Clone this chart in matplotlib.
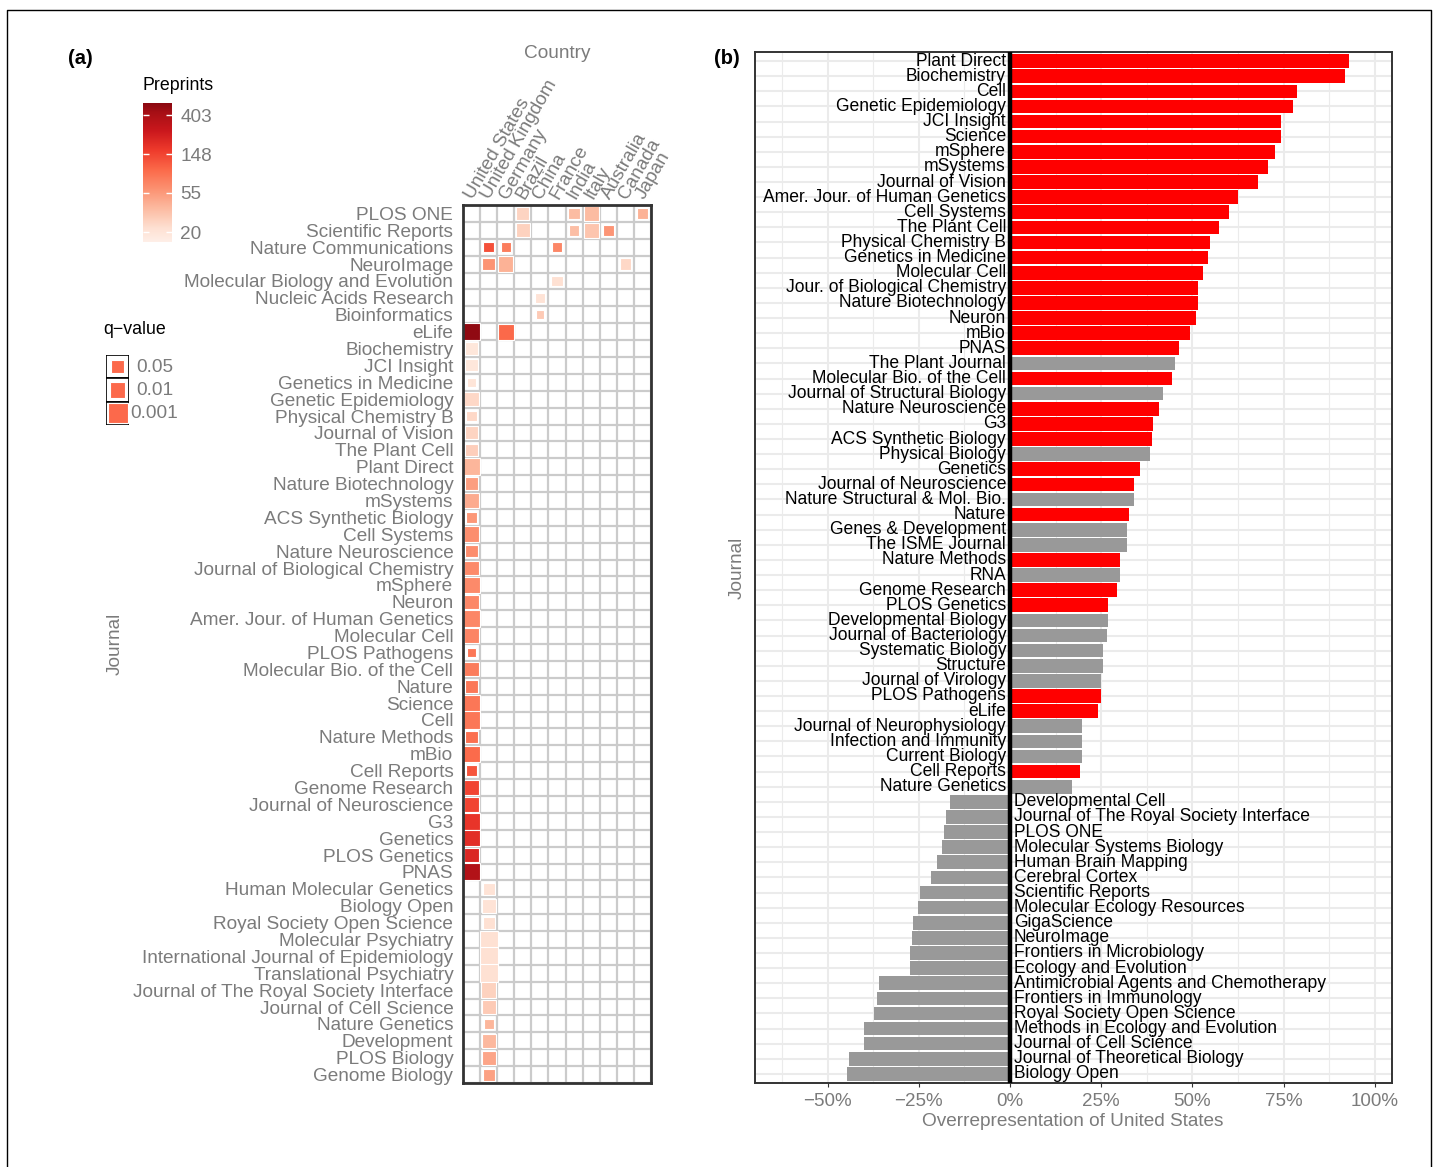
import matplotlib
matplotlib.use('Agg')
import matplotlib.pyplot as plt
import numpy as np
from matplotlib.patches import Rectangle
from matplotlib.colors import LogNorm
from matplotlib.lines import Line2D

plt.rcParams['font.family'] = ['Liberation Sans', 'DejaVu Sans']

# ---------------- panel (a) data ----------------
countries = ['United States', 'United Kingdom', 'Germany', 'Brazil', 'China', 'France',
             'India', 'Italy', 'Australia', 'Canada', 'Japan']

heat_journals = [
    'PLOS ONE', 'Scientific Reports', 'Nature Communications', 'NeuroImage',
    'Molecular Biology and Evolution', 'Nucleic Acids Research', 'Bioinformatics', 'eLife',
    'Biochemistry', 'JCI Insight', 'Genetics in Medicine', 'Genetic Epidemiology',
    'Physical Chemistry B', 'Journal of Vision', 'The Plant Cell', 'Plant Direct',
    'Nature Biotechnology', 'mSystems', 'ACS Synthetic Biology', 'Cell Systems',
    'Nature Neuroscience', 'Journal of Biological Chemistry', 'mSphere', 'Neuron',
    'Amer. Jour. of Human Genetics', 'Molecular Cell', 'PLOS Pathogens',
    'Molecular Bio. of the Cell', 'Nature', 'Science', 'Cell', 'Nature Methods', 'mBio',
    'Cell Reports', 'Genome Research', 'Journal of Neuroscience', 'G3', 'Genetics',
    'PLOS Genetics', 'PNAS', 'Human Molecular Genetics', 'Biology Open',
    'Royal Society Open Science', 'Molecular Psychiatry',
    'International Journal of Epidemiology', 'Translational Psychiatry',
    'Journal of The Royal Society Interface', 'Journal of Cell Science', 'Nature Genetics',
    'Development', 'PLOS Biology', 'Genome Biology']

# one entry per filled cell
cell_journal = [
    'PLOS ONE', 'PLOS ONE', 'PLOS ONE', 'PLOS ONE',
    'Scientific Reports', 'Scientific Reports', 'Scientific Reports', 'Scientific Reports',
    'Nature Communications', 'Nature Communications', 'Nature Communications',
    'NeuroImage', 'NeuroImage', 'NeuroImage',
    'Molecular Biology and Evolution', 'Nucleic Acids Research', 'Bioinformatics',
    'eLife', 'eLife',
    'Biochemistry', 'JCI Insight', 'Genetics in Medicine', 'Genetic Epidemiology',
    'Physical Chemistry B', 'Journal of Vision', 'The Plant Cell', 'Plant Direct',
    'Nature Biotechnology', 'mSystems', 'ACS Synthetic Biology', 'Cell Systems',
    'Nature Neuroscience', 'Journal of Biological Chemistry', 'mSphere', 'Neuron',
    'Amer. Jour. of Human Genetics', 'Molecular Cell', 'PLOS Pathogens',
    'Molecular Bio. of the Cell', 'Nature', 'Science', 'Cell', 'Nature Methods', 'mBio',
    'Cell Reports', 'Genome Research', 'Journal of Neuroscience', 'G3', 'Genetics',
    'PLOS Genetics', 'PNAS',
    'Human Molecular Genetics', 'Biology Open', 'Royal Society Open Science',
    'Molecular Psychiatry', 'International Journal of Epidemiology',
    'Translational Psychiatry', 'Journal of The Royal Society Interface',
    'Journal of Cell Science', 'Nature Genetics', 'Development', 'PLOS Biology',
    'Genome Biology']
cell_country = (
    ['Brazil', 'India', 'Italy', 'Japan']
    + ['Brazil', 'India', 'Italy', 'Australia']
    + ['United Kingdom', 'Germany', 'France']
    + ['United Kingdom', 'Germany', 'Canada']
    + ['France', 'China', 'China']
    + ['United States', 'Germany']
    + ['United States'] * 32
    + ['United Kingdom'] * 12)
cell_preprints = [
    26, 36, 36, 41,
    27, 35, 32, 58,
    130, 78, 69,
    59, 41, 25,
    22, 21, 30,
    520, 100,
    19, 19, 20, 25, 25, 26, 28, 39, 52, 44, 57, 63, 64, 66, 66, 69, 69, 72, 84, 78,
    83, 84, 84, 92, 99, 125, 147, 147, 180, 196, 219, 370,
    21, 21, 22, 22, 22, 22, 27, 30, 39, 38, 48, 50]
cell_q = [
    0.037, 0.076, 0.016, 0.10,
    0.019, 0.14, 0.016, 0.14,
    0.17, 0.21, 0.21,
    0.053, 0.011, 0.10,
    0.12, 0.17, 0.40,
    0.0042, 0.0072,
    0.031, 0.063, 0.33, 0.023, 0.17, 0.037, 0.063, 0.006, 0.031, 0.0095, 0.10, 0.0095,
    0.053, 0.014, 0.006, 0.019, 0.006, 0.014, 0.40, 0.019, 0.045, 0.0042, 0.0042,
    0.053, 0.006, 0.14, 0.016, 0.0095, 0.006, 0.006, 0.016, 0.0042,
    0.063, 0.023, 0.063, 0.003, 0.003, 0.003, 0.011, 0.023, 0.21, 0.023, 0.023, 0.063]

preprint_breaks = [20, 55, 148, 403]
preprint_range = (15.5, 550)
q_breaks = [0.05, 0.01, 0.001]

# ---------------- panel (b) data ----------------
bar_journals = [
    'Plant Direct', 'Biochemistry', 'Cell', 'Genetic Epidemiology', 'JCI Insight',
    'Science', 'mSphere', 'mSystems', 'Journal of Vision', 'Amer. Jour. of Human Genetics',
    'Cell Systems', 'The Plant Cell', 'Physical Chemistry B', 'Genetics in Medicine',
    'Molecular Cell', 'Jour. of Biological Chemistry', 'Nature Biotechnology', 'Neuron',
    'mBio', 'PNAS', 'The Plant Journal', 'Molecular Bio. of the Cell',
    'Journal of Structural Biology', 'Nature Neuroscience', 'G3', 'ACS Synthetic Biology',
    'Physical Biology', 'Genetics', 'Journal of Neuroscience',
    'Nature Structural & Mol. Bio.', 'Nature', 'Genes & Development', 'The ISME Journal',
    'Nature Methods', 'RNA', 'Genome Research', 'PLOS Genetics', 'Developmental Biology',
    'Journal of Bacteriology', 'Systematic Biology', 'Structure', 'Journal of Virology',
    'PLOS Pathogens', 'eLife', 'Journal of Neurophysiology', 'Infection and Immunity',
    'Current Biology', 'Cell Reports', 'Nature Genetics', 'Developmental Cell',
    'Journal of The Royal Society Interface', 'PLOS ONE', 'Molecular Systems Biology',
    'Human Brain Mapping', 'Cerebral Cortex', 'Scientific Reports',
    'Molecular Ecology Resources', 'GigaScience', 'NeuroImage',
    'Frontiers in Microbiology', 'Ecology and Evolution',
    'Antimicrobial Agents and Chemotherapy', 'Frontiers in Immunology',
    'Royal Society Open Science', 'Methods in Ecology and Evolution',
    'Journal of Cell Science', 'Journal of Theoretical Biology', 'Biology Open']
bar_values = [
    0.928, 0.918, 0.787, 0.775, 0.742, 0.742, 0.726, 0.707, 0.679, 0.626,
    0.600, 0.574, 0.547, 0.542, 0.530, 0.516, 0.514, 0.511, 0.492, 0.462,
    0.453, 0.443, 0.420, 0.409, 0.393, 0.388, 0.383, 0.355, 0.341, 0.341,
    0.327, 0.322, 0.322, 0.302, 0.302, 0.294, 0.269, 0.269, 0.266, 0.255,
    0.255, 0.250, 0.250, 0.242, 0.198, 0.198, 0.198, 0.192, 0.170,
    -0.165, -0.176, -0.181, -0.187, -0.201, -0.217, -0.247, -0.253, -0.266, -0.269,
    -0.273, -0.273, -0.360, -0.364, -0.374, -0.399, -0.399, -0.441, -0.446]
bar_significant = [
    1, 1, 1, 1, 1, 1, 1, 1, 1, 1,
    1, 1, 1, 1, 1, 1, 1, 1, 1, 1,
    0, 1, 0, 1, 1, 1, 0, 1, 1, 0,
    1, 0, 0, 1, 0, 1, 1, 0, 0, 0,
    0, 0, 1, 1, 0, 0, 0, 1, 0,
    0, 0, 0, 0, 0, 0, 0, 0, 0, 0,
    0, 0, 0, 0, 0, 0, 0, 0, 0]
pct_ticks = [-0.5, -0.25, 0, 0.25, 0.5, 0.75, 1.0]

# ---------------- figure ----------------
W, H = 1437, 1167
GREY = '#7b7b7b'
fig = plt.figure(figsize=(W / 100, H / 100), dpi=100)


def px(x0, y0, x1, y1):
    return [x0 / W, 1 - y1 / H, (x1 - x0) / W, (y1 - y0) / H]


def ftext(x, y, s, **kw):
    fig.text(x / W, 1 - y / H, s, **kw)


fig.add_artist(Line2D([7 / W, 7 / W, 1431 / W, 1431 / W], [0, 1 - 10 / H, 1 - 10 / H, 0],
                      transform=fig.transFigure, color='black', lw=1))

cmap = plt.get_cmap('Reds')
norm = LogNorm(vmin=13.4, vmax=732)


def side_px(q):
    return 7.1 + 4.3 * (-np.log10(q))


# heatmap
ax = fig.add_axes(px(463, 205, 651, 1083))
nr, nc = len(heat_journals), len(countries)
ax.set_xlim(0, nc)
ax.set_ylim(nr, 0)
for i in range(nc + 1):
    ax.axvline(i, color='#cbcbcb', lw=1.6, zorder=1)
for j in range(nr + 1):
    ax.axhline(j, color='#cbcbcb', lw=1.6, zorder=1)
tile_px = 188 / nc
for jn, cn, n, q in zip(cell_journal, cell_country, cell_preprints, cell_q):
    r = heat_journals.index(jn)
    c = countries.index(cn)
    s = side_px(q) / tile_px
    ax.add_patch(Rectangle((c + 0.5 - s / 2, r + 0.5 - s / 2), s, s,
                           facecolor=cmap(norm(n)), edgecolor='white', lw=0.8, zorder=2))
ax.set_yticks(np.arange(nr) + 0.5)
ax.set_yticklabels(heat_journals, fontsize=13.7, color=GREY)
ax.set_xticks([])
ax.tick_params(axis='y', length=0, pad=7)
for sp in ax.spines.values():
    sp.set_color('#333333')
    sp.set_linewidth(2)
for c, name in enumerate(countries):
    ax.text(c + 0.35, -0.45, name, rotation=60, rotation_mode='anchor', ha='left',
            va='center', fontsize=13.7, color=GREY, clip_on=False)

ftext(557, 54, 'Country', fontsize=13.7, color=GREY, ha='center', va='center')
ftext(115, 644, 'Journal', fontsize=13.7, color=GREY, ha='center', va='center', rotation=90)
ftext(80, 59, '(a)', fontsize=14.5, fontweight='bold', ha='center', va='center')

# colorbar
cax = fig.add_axes(px(143, 103, 172, 242))
lo, hi = np.log(preprint_range[0]), np.log(preprint_range[1])
grad = np.exp(np.linspace(lo, hi, 300))
cax.imshow(cmap(norm(grad))[:, None, :], extent=[0, 1, lo, hi], aspect='auto', origin='lower')
cax.set_xlim(0, 1)
cax.set_ylim(lo, hi)
for b in preprint_breaks:
    cax.hlines(np.log(b), 0, 0.2, color='white', lw=1)
    cax.hlines(np.log(b), 0.8, 1, color='white', lw=1)
cax.yaxis.tick_right()
cax.set_yticks([np.log(b) for b in preprint_breaks])
cax.set_yticklabels([str(b) for b in preprint_breaks], fontsize=13.7, color=GREY)
cax.tick_params(axis='y', length=0, pad=6)
cax.set_xticks([])
for sp in cax.spines.values():
    sp.set_visible(False)
ftext(143, 86, 'Preprints', fontsize=12.8, ha='left', va='center')

# q-value legend
ftext(103, 329, 'q\u2212value', fontsize=12.8, ha='left', va='center')
qax = fig.add_axes(px(106, 355, 129, 425))
qax.set_xlim(0, 1)
qax.set_ylim(len(q_breaks), 0)
qax.axis('off')
key_px = 23
for k, q in enumerate(q_breaks):
    qax.add_patch(Rectangle((0, k), 1, 1, facecolor='white', edgecolor='black', lw=1.2))
    s = side_px(q) / key_px
    qax.add_patch(Rectangle((0.5 - s / 2, k + 0.5 - s / 2), s, s * 23 / key_px,
                            facecolor='#fc694b', edgecolor='white', lw=0.8))
    ftext(136 if q >= 0.01 else 130, 367 + 23.5 * k, str(q), fontsize=13.7, color=GREY,
          ha='left', va='center')

# ---------------- panel (b) ----------------
bx = fig.add_axes(px(755, 52, 1392, 1083))
nb = len(bar_journals)
ypos = np.arange(1, nb + 1)
bx.set_xlim(-0.699, 1.047)
bx.set_ylim(nb + 0.6, 0.4)
for t in pct_ticks:
    bx.axvline(t, color='#ebebeb', lw=1.5, zorder=0)
for t in np.arange(-0.625, 1.0, 0.25):
    bx.axvline(t, color='#ebebeb', lw=0.8, zorder=0)
for y in ypos:
    bx.axhline(y, color='#ebebeb', lw=1.5, zorder=0)
colors = ['#ff0000' if s else '#999999' for s in bar_significant]
bx.barh(ypos, bar_values, height=0.9, color=colors, zorder=2)
bx.axvline(0, color='black', lw=3.2, zorder=3)
for y, name, v in zip(ypos, bar_journals, bar_values):
    if v > 0:
        bx.text(-0.011, y, name, ha='right', va='center', fontsize=12.65, zorder=4)
    else:
        bx.text(0.011, y, name, ha='left', va='center', fontsize=12.65, zorder=4)
bx.set_yticks([])
bx.set_xticks(pct_ticks)
bx.set_xticklabels([f'{t * 100:.0f}%'.replace('-', '\u2212') for t in pct_ticks],
                   fontsize=13.5, color=GREY)
bx.tick_params(axis='x', length=3, color='#333333', pad=4)
for sp in bx.spines.values():
    sp.set_color('#333333')
    sp.set_linewidth(1.4)

ftext(1073, 1122, 'Overrepresentation of United States', fontsize=13.7, color=GREY,
      ha='center', va='center')
ftext(737, 568, 'Journal', fontsize=13.7, color=GREY, ha='center', va='center', rotation=90)
ftext(727, 59, '(b)', fontsize=14.5, fontweight='bold', ha='center', va='center')

fig.savefig('out.png', dpi=100)
